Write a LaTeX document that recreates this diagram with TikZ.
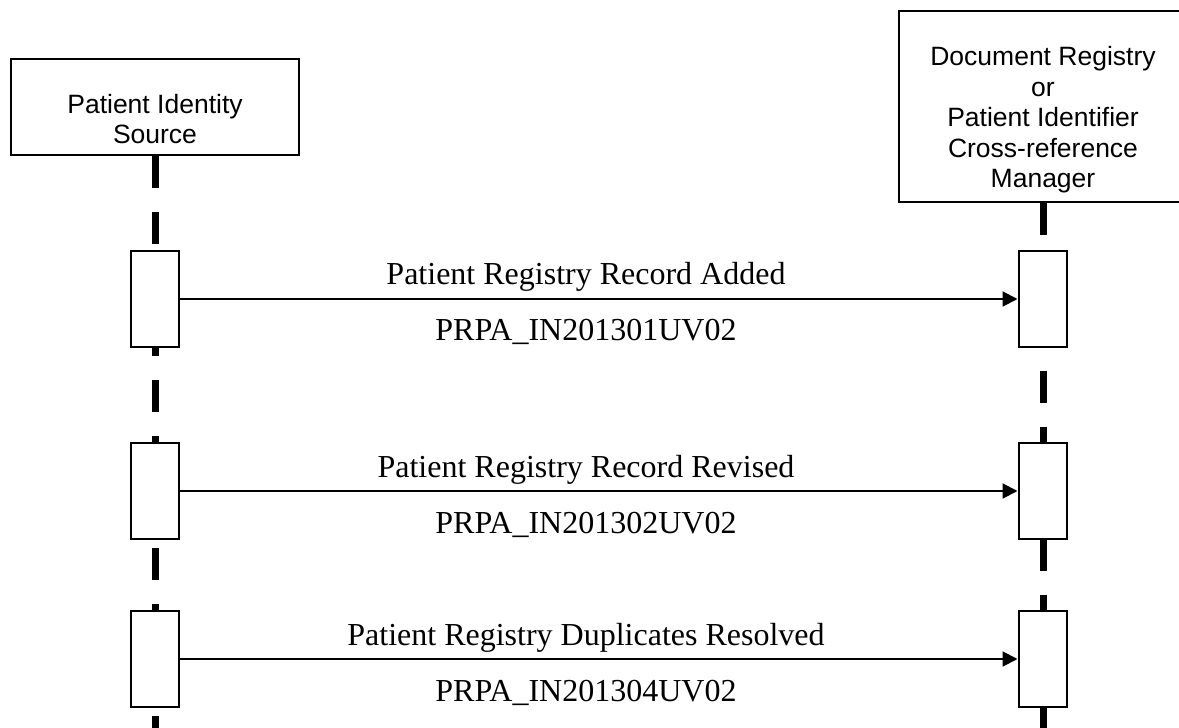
\documentclass[tikz,border=0pt]{standalone}
\usepackage{fontspec}
\setmainfont{Liberation Serif}
\newfontfamily\hdrfont{Liberation Sans}
\usetikzlibrary{arrows.meta}
\tikzset{
  hdrbox/.style={draw, line width=2pt, inner sep=0pt, minimum width=288pt, minimum height=96pt},
  hdrtext/.style={inner sep=0pt, align=center, font=\hdrfont\fontsize{26.5}{30.5}\selectfont},
  actbox/.style={draw, line width=2pt, fill=white, inner sep=0pt, minimum width=48pt, minimum height=96pt},
  lifeline/.style={line width=7pt, dash pattern=on 32pt off 24pt},
  msg/.style={line width=2pt, -{Triangle[length=15pt 0 0, width=15pt 0 0]}},
  msgtext/.style={inner sep=0pt, anchor=base, font=\fontsize{32}{36}\selectfont}
}
\begin{document}
\begin{tikzpicture}[x=1pt, y=-1pt]
\useasboundingbox (0,0) rectangle (1179,728);
% headers
\node[hdrbox, minimum height=96pt] (srcbox) at (155,107) {};
\node[hdrbox, minimum height=191pt] (regbox) at (1043,106.5) {};
\node[hdrtext] (srctext) at (155,119) {Patient Identity\\Source};
\node[hdrtext] (regtext) at (1043,120) {Document Registry\\or\\Patient Identifier\\Cross-reference\\Manager};
% lifeline ends
\coordinate (srcend) at (155,740);
\coordinate (regend) at (1043,740);
\draw[lifeline] (srcbox.south) -- (srcend);
\draw[lifeline] (regbox.south) -- (regend);
% activation boxes
\node[actbox] (s1) at (155,299) {};
\node[actbox] (r1) at (1042.5,299) {};
\node[actbox] (s2) at (155,491) {};
\node[actbox] (r2) at (1042.5,491) {};
\node[actbox] (s3) at (155,659) {};
\node[actbox] (r3) at (1042.5,659) {};
% messages
\draw[msg] (s1.east) -- (r1.west);
\draw[msg] (s2.east) -- (r2.west);
\draw[msg] (s3.east) -- (r3.west);
\node[msgtext] (m1) at (586,284) {Patient Registry Record Added};
\node[msgtext] (c1) at (586,340) {PRPA\_IN201301UV02};
\node[msgtext] (m2) at (586,477) {Patient Registry Record Revised};
\node[msgtext] (c2) at (586,533) {PRPA\_IN201302UV02};
\node[msgtext] (m3) at (586,645) {Patient Registry Duplicates Resolved};
\node[msgtext] (c3) at (586,701) {PRPA\_IN201304UV02};
\end{tikzpicture}
\end{document}
